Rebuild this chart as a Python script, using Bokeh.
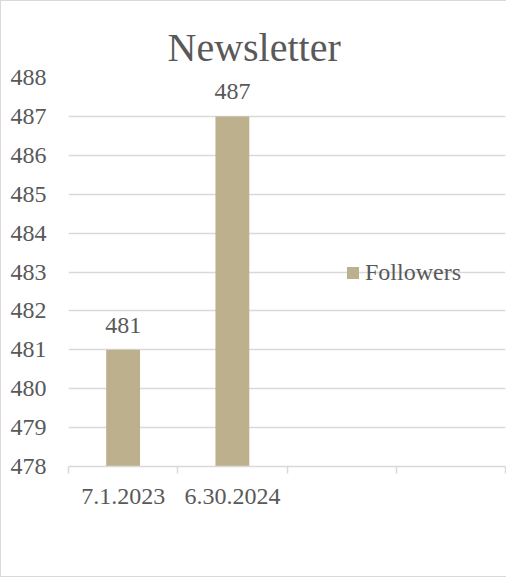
from bokeh.plotting import figure
from bokeh.models import Range1d, FixedTicker, ColumnDataSource, LabelSet, Legend, LegendItem, Title
from bokeh.embed import file_html
from bokeh.resources import INLINE

# ---- data ----
title_text = "Newsletter"
series_name = "Followers"
categories = ["7.1.2023", "6.30.2024"]
followers = [481, 487]
n_slots = 4
y_min, y_max = 478, 488

FONT = "Liberation Serif"
TXT = "#595959"
GRID = "#d9d9d9"
BAR = "#bcb08d"

xs = [i + 0.5 for i in range(len(categories))]
src = ColumnDataSource(dict(x=xs, top=followers, label=[str(v) for v in followers], cat=categories))

p = figure(width=506, height=577, output_backend="svg", toolbar_location=None,
           x_range=Range1d(0, n_slots), y_range=Range1d(y_min, y_max),
           min_border_left=67, min_border_right=2, min_border_top=76, min_border_bottom=112)
p.outline_line_color = None
p.background_fill_color = "white"
p.border_fill_color = "white"

r = p.vbar(x="x", top="top", bottom=y_min, width=0.31, source=src,
           fill_color=BAR, line_color=None)

# y axis
p.yaxis.ticker = FixedTicker(ticks=list(range(y_min, y_max + 1)))
p.yaxis.axis_line_color = None
p.yaxis.major_tick_line_color = None
p.yaxis.minor_tick_line_color = None
p.yaxis.major_tick_out = 0
p.yaxis.major_tick_in = 0
p.yaxis.major_label_standoff = 22
p.yaxis.major_label_text_font = FONT
p.yaxis.major_label_text_font_size = "24px"
p.yaxis.major_label_text_color = TXT

# x axis
p.xaxis.ticker = FixedTicker(ticks=xs, minor_ticks=list(range(0, n_slots + 1)))
p.xaxis.major_label_overrides = {x: c for x, c in zip(xs, categories)}
p.xaxis.axis_line_color = GRID
p.xaxis.axis_line_width = 1.5
p.xaxis.major_tick_line_color = None
p.xaxis.major_tick_out = 0
p.xaxis.major_tick_in = 0
p.xaxis.minor_tick_line_color = GRID
p.xaxis.minor_tick_line_width = 1.5
p.xaxis.minor_tick_out = 7
p.xaxis.minor_tick_in = 0
p.xaxis.major_label_standoff = 15
p.xaxis.major_label_text_font = FONT
p.xaxis.major_label_text_font_size = "24px"
p.xaxis.major_label_text_color = TXT

p.xgrid.grid_line_color = None
p.ygrid.ticker = FixedTicker(ticks=list(range(y_min + 1, y_max + 1)))
p.ygrid.grid_line_color = GRID
p.ygrid.grid_line_width = 1.5

# data labels
labels = LabelSet(x="x", y="top", text="label", source=src, y_offset=17,
                  text_align="center", text_baseline="alphabetic",
                  text_font=FONT, text_font_size="24px", text_color=TXT)
p.add_layout(labels)

# title
t = Title(text=title_text, align="left", offset=99, text_font=FONT,
          text_font_size="40px", text_font_style="normal", text_color=TXT, standoff=16)
p.add_layout(t, "above")

# legend
legend = Legend(items=[LegendItem(label=series_name, renderers=[r])],
                location=(277, 180), padding=0, margin=0, spacing=0,
                glyph_width=15, glyph_height=15, label_standoff=5,
                background_fill_alpha=0, border_line_alpha=0,
                label_text_font=FONT, label_text_font_size="24px", label_text_color=TXT)
p.add_layout(legend, "center")

p.styles = {"border-left": "1.5px solid #d9d9d9", "border-top": "1.5px solid #d9d9d9",
            "border-bottom": "1.5px solid #d9d9d9", "box-sizing": "border-box"}

open("out.html", "w").write(file_html(p, INLINE))
